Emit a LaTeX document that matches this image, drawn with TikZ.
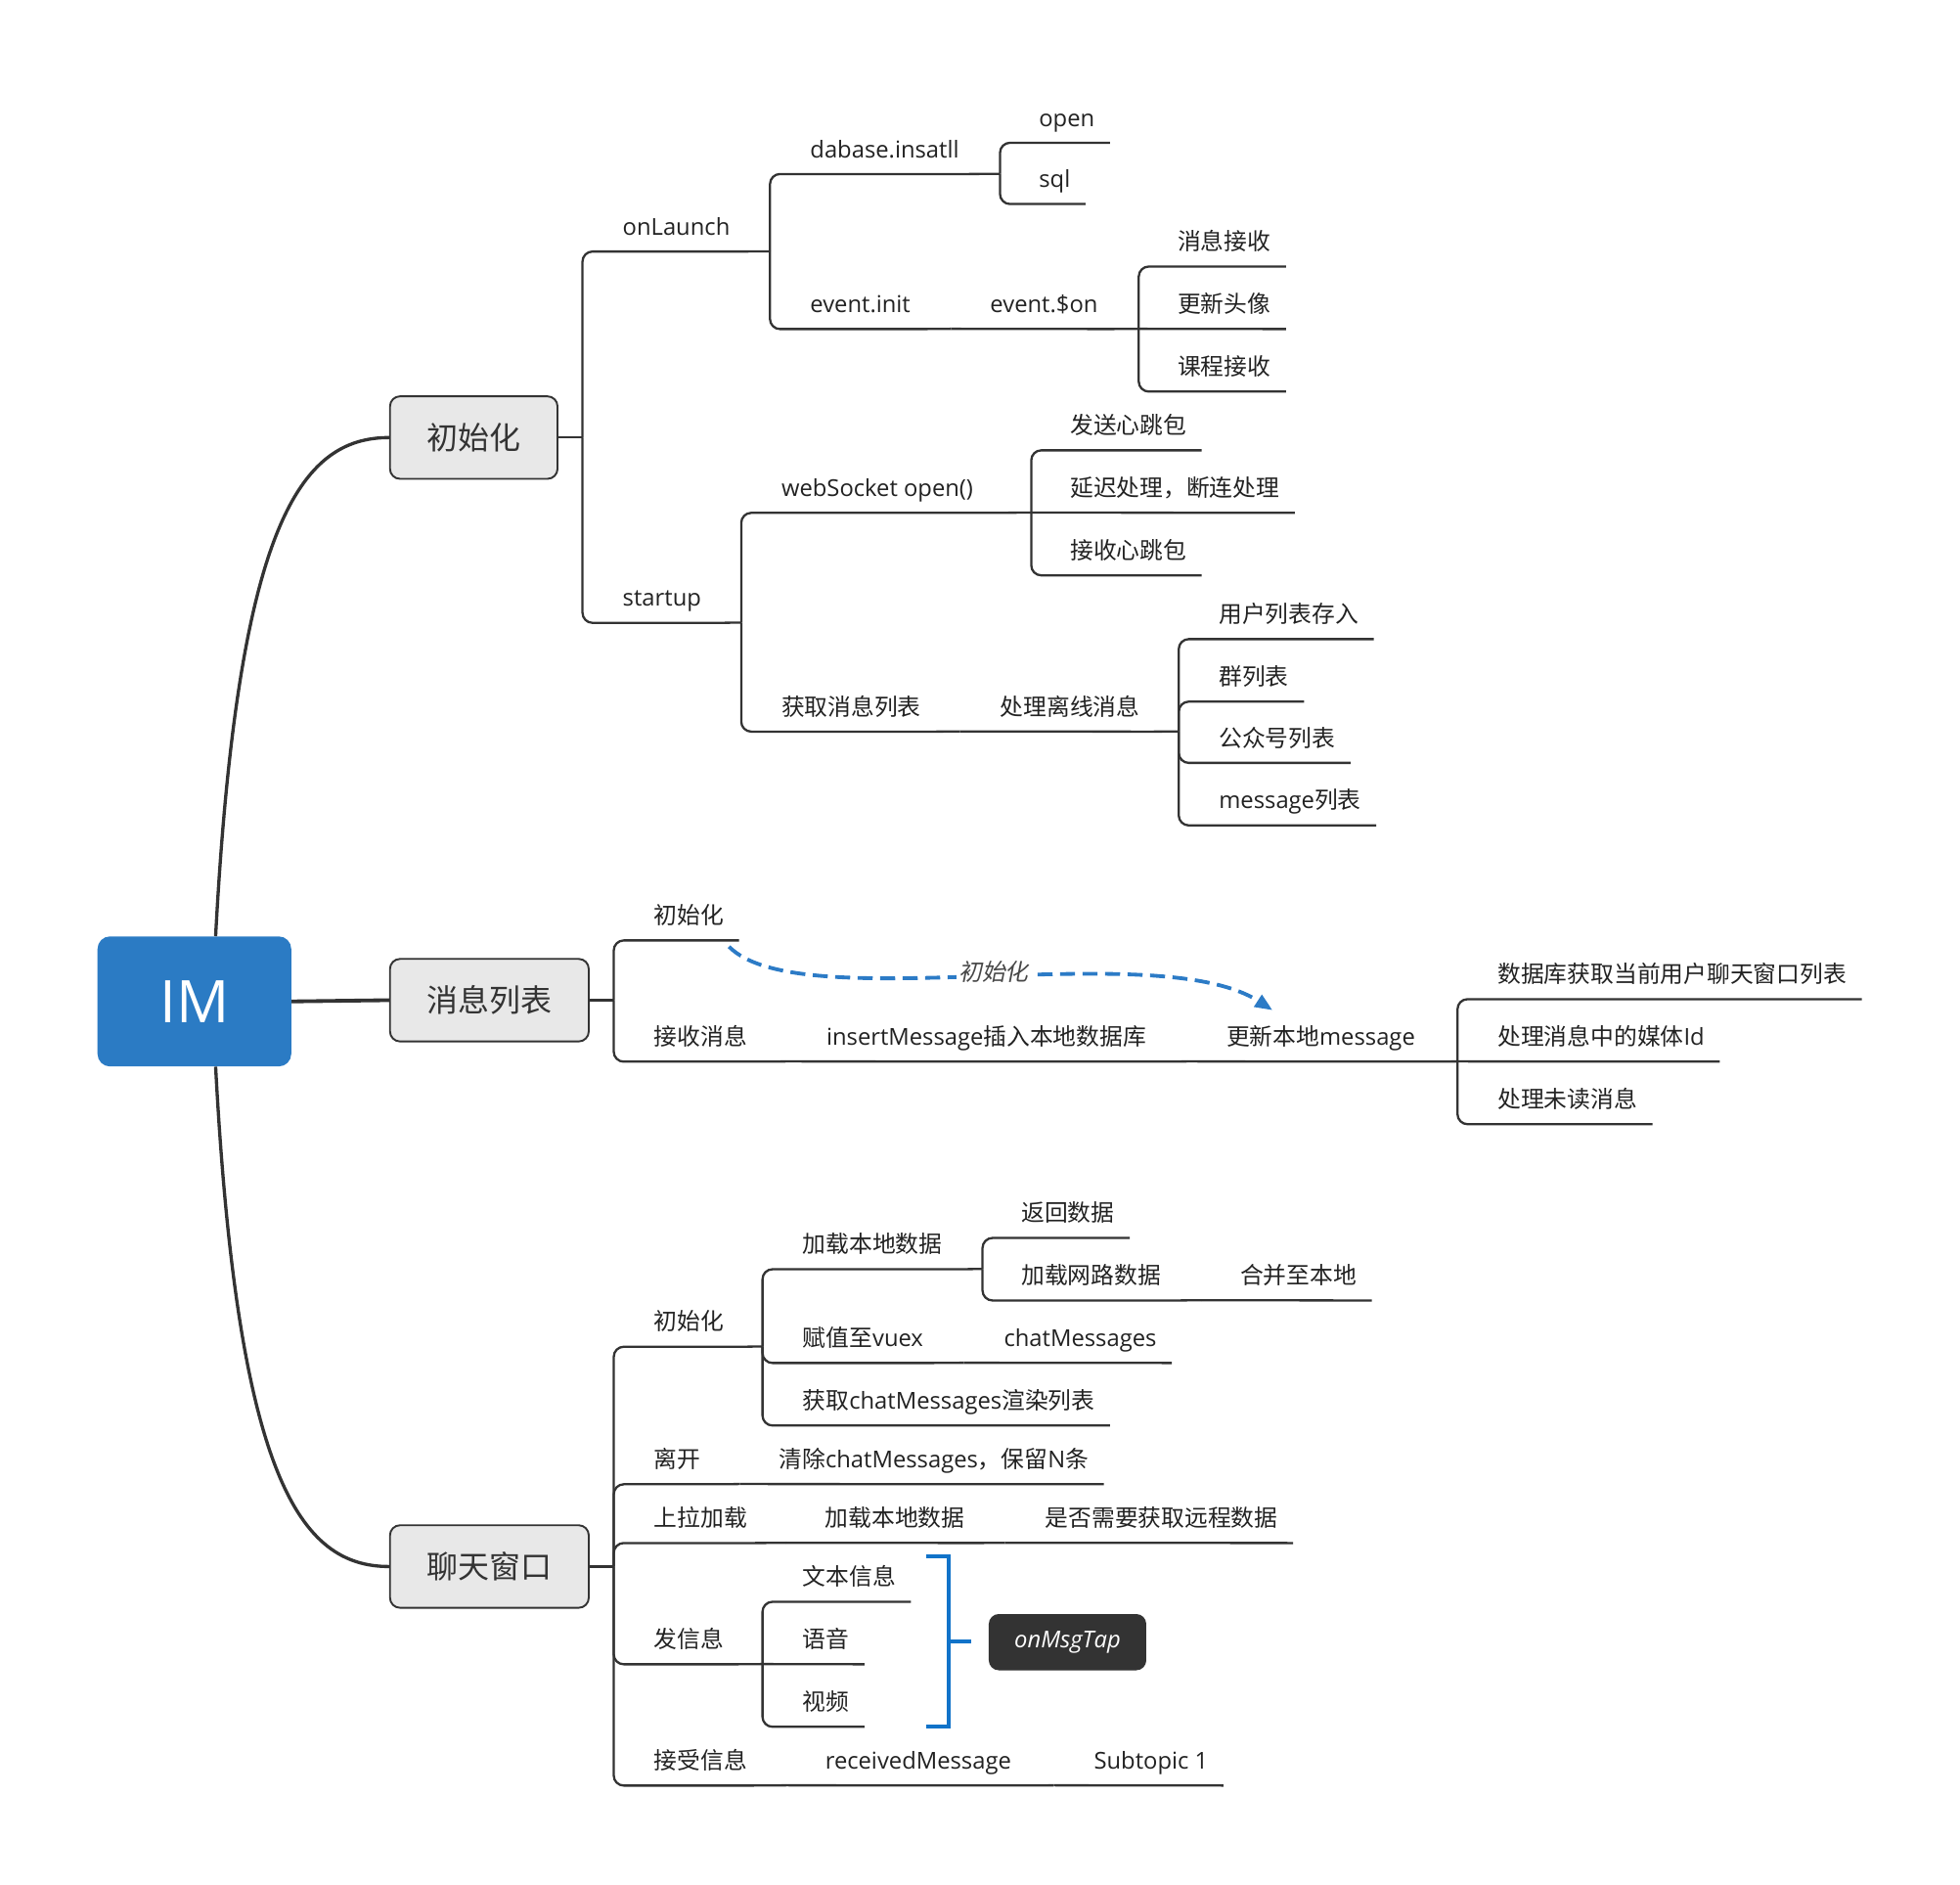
\documentclass[tikz,border=0pt]{standalone}
\usepackage{fontspec}
\setmainfont{Open Sans}
\newfontfamily\cjk{Noto Sans CJK SC}
\newfontfamily\cjkit[FakeSlant=0.2]{Noto Sans CJK SC}
\newcommand\zh[1]{{\cjk #1}}
\newcommand\fsub{\fontsize{18.6}{22}\selectfont}
\usetikzlibrary{calc,arrows.meta}
\definecolor{imblue}{HTML}{2B7BC4}
\definecolor{relblue}{HTML}{2C7BC6}
\definecolor{sumblue}{HTML}{1173C9}
\definecolor{boxfill}{HTML}{E8E8E8}
\definecolor{ink}{HTML}{333333}
\definecolor{txt}{HTML}{222222}
\begin{document}
\begin{tikzpicture}[x=1pt,y=-1pt,
  tp/.style={anchor=base west, inner xsep=12pt, inner ysep=0pt, text depth=13pt, font=\fsub, text=txt},
  cn/.style={line width=1.8pt, draw=ink, rounded corners=8pt},
  mainbox/.style={draw=ink, line width=1.5pt, fill=boxfill, rounded corners=8pt, minimum height=66pt, inner sep=0pt, text=ink, font=\fontsize{25}{28}\selectfont\cjk},
  imbox/.style={fill=imblue, rounded corners=10pt, minimum width=155pt, minimum height=104pt, inner sep=0pt, text=white, font=\fontsize{47}{50}\selectfont},
  mainln/.style={line width=2.6pt, draw=ink},
  rel/.style={line width=3pt, draw=relblue, dash pattern=on 12pt off 6pt, -{Triangle[length=14pt,width=11pt]}},
  rellabel/.style={fill=white, inner sep=2pt, text=ink!90, font=\fsub\cjkit},
  sumln/.style={line width=3pt, draw=sumblue},
  darkbox/.style={fill=ink, rounded corners=8pt, minimum width=126pt, minimum height=45pt, inner sep=0pt, text=white, font=\fsub\itshape}
]
\useasboundingbox (0,0) rectangle (1568,1507);

% ---------- central and main topics ----------
\node[imbox] (im) at (155.5,801) {IM};
\node[mainbox, minimum width=134pt] (m1) at (379,350) {初始化};
\node[mainbox, minimum width=159pt] (m2) at (391.5,800) {消息列表};
\node[mainbox, minimum width=159pt] (m3) at (391.5,1253) {聊天窗口};

\draw[mainln] ([xshift=17pt]im.north) .. controls (190,420) and (240,350) .. (m1.west);
\draw[mainln, line width=3pt] (im.east) -- (m2.west);
\draw[mainln] ([xshift=17pt]im.south) .. controls (190,1182) and (240,1253) .. (m3.west);

% ---------- section 1: 初始化 ----------
\coordinate (J1) at (466,350);
\coordinate (A) at (616,201);
\coordinate (B) at (800,139);
\coordinate (C) at (761,263);
\coordinate (D) at (911,263);
\coordinate (E) at (593,498);
\coordinate (F) at (825,410);
\coordinate (G) at (768,585);
\coordinate (H) at (943,585);

\node[tp] (onlaunch) at (486,188) {onLaunch};
\node[tp] (dabase) at (636,126) {dabase.insatll};
\node[tp] (open) at (819,101) {open};
\node[tp] (sql) at (819,150) {sql};
\node[tp] (evinit) at (636,250) {event.init};
\node[tp] (evon) at (780,250) {event.\$on};
\node[tp] (xxjs) at (930,200) {\zh{消息接收}};
\node[tp] (gxtx) at (930,250) {\zh{更新头像}};
\node[tp] (kcjs) at (930,300) {\zh{课程接收}};
\node[tp] (startup) at (486,485) {startup};
\node[tp] (ws) at (613,397) {webSocket open()};
\node[tp] (fsxt) at (844,347) {\zh{发送心跳包}};
\node[tp] (yccl) at (844,397) {\zh{延迟处理，断连处理}};
\node[tp] (jsxt) at (844,447) {\zh{接收心跳包}};
\node[tp] (hqxx) at (613,572) {\zh{获取消息列表}};
\node[tp] (clpx) at (788,572) {\zh{处理离线消息}};
\node[tp] (yhlb) at (963,498) {\zh{用户列表存入}};
\node[tp] (qlb) at (963,548) {\zh{群列表}};
\node[tp] (gzh) at (963,597) {\zh{公众号列表}};
\node[tp] (msgl) at (963,647) {message\zh{列表}};

\draw[cn] (m1.east) -- (J1);
\draw[cn] (J1) |- (onlaunch.south east) -- (A);
\draw[cn] (A) |- (dabase.south east) -- (B);
\draw[cn] (B) |- (open.south east);
\draw[cn] (B) |- (sql.south east);
\draw[cn] (A) |- (evinit.south east) -- (C);
\draw[cn] (C) -- (evon.south east) -- (D);
\draw[cn] (D) |- (xxjs.south east);
\draw[cn] (D) -- (gxtx.south east);
\draw[cn] (D) |- (kcjs.south east);
\draw[cn] (J1) |- (startup.south east) -- (E);
\draw[cn] (E) |- (ws.south east) -- (F);
\draw[cn] (F) |- (fsxt.south east);
\draw[cn] (F) -- (yccl.south east);
\draw[cn] (F) |- (jsxt.south east);
\draw[cn] (E) |- (hqxx.south east) -- (G);
\draw[cn] (G) -- (clpx.south east) -- (H);
\draw[cn] (H) |- (yhlb.south east);
\draw[cn] (H) |- (qlb.south east);
\draw[cn] (H) |- (gzh.south east);
\draw[cn] (H) |- (msgl.south east);

% ---------- section 2: 消息列表 ----------
\coordinate (J2) at (491,800);
\coordinate (K) at (629,849);
\coordinate (L) at (950,849);
\coordinate (M) at (1166,849);

\node[tp] (r1) at (511,739) {\zh{初始化}};
\node[tp] (recv) at (511,836) {\zh{接收消息}};
\node[tp] (ins) at (649,836) {insertMessage\zh{插入本地数据库}};
\node[tp] (upd) at (969,836) {\zh{更新本地}message};
\node[tp] (db) at (1186,786) {\zh{数据库获取当前用户聊天窗口列表}};
\node[tp] (media) at (1186,836) {\zh{处理消息中的媒体}Id};
\node[tp] (unread) at (1186,886) {\zh{处理未读消息}};

\draw[cn] (m2.east) -- (J2);
\draw[cn] (J2) |- (r1.south east);
\draw[cn] (J2) |- (recv.south east) -- (K);
\draw[cn] (K) -- (ins.south east) -- (L);
\draw[cn] (L) -- (upd.south east) -- (M);
\draw[cn] (M) |- (db.south east);
\draw[cn] (M) -- (media.south east);
\draw[cn] (M) |- (unread.south east);

\coordinate (rEnd) at (1018,808);
\draw[rel] ($(r1.south east)+(-8,5)$) .. controls (640,815) and (925,748) .. (rEnd);
\node[rellabel] (rl) at (795,777) {初始化};

% ---------- section 3: 聊天窗口 ----------
\coordinate (J3) at (491,1253);
\coordinate (N) at (610,1077);
\coordinate (O) at (786,1015);
\coordinate (P) at (961,1040);
\coordinate (Q) at (771,1090);
\coordinate (R) at (592,1187);
\coordinate (S) at (629,1234);
\coordinate (T) at (804,1234);
\coordinate (U) at (610,1331);
\coordinate (V) at (629,1428);
\coordinate (W) at (843,1428);

\node[tp] (c1) at (511,1064) {\zh{初始化}};
\node[tp] (c1a) at (630,1002) {\zh{加载本地数据}};
\node[tp] (c1a1) at (805,977) {\zh{返回数据}};
\node[tp] (c1a2) at (805,1027) {\zh{加载网路数据}};
\node[tp] (c1a2a) at (980,1027) {\zh{合并至本地}};
\node[tp] (c1b) at (630,1077) {\zh{赋值至}vuex};
\node[tp] (c1b1) at (791,1077) {chatMessages};
\node[tp] (c1c) at (630,1127) {\zh{获取}chatMessages\zh{渲染列表}};
\node[tp] (c2) at (511,1174) {\zh{离开}};
\node[tp] (c2a) at (611,1174) {\zh{清除}chatMessages\zh{，保留}N\zh{条}};
\node[tp] (c3) at (511,1221) {\zh{上拉加载}};
\node[tp] (c3a) at (648,1221) {\zh{加载本地数据}};
\node[tp] (c3a1) at (824,1221) {\zh{是否需要获取远程数据}};
\node[tp] (c4) at (511,1318) {\zh{发信息}};
\node[tp] (c4a) at (630,1268) {\zh{文本信息}};
\node[tp] (c4b) at (630,1318) {\zh{语音}};
\node[tp] (c4c) at (630,1368) {\zh{视频}};
\node[tp] (c5) at (511,1415) {\zh{接受信息}};
\node[tp] (c5a) at (648,1415) {receivedMessage};
\node[tp] (c5a1) at (863,1415) {Subtopic 1};

\draw[cn] (m3.east) -- (J3);
\draw[cn] (J3) |- (c1.south east) -- (N);
\draw[cn] (N) |- (c1a.south east) -- (O);
\draw[cn] (O) |- (c1a1.south east);
\draw[cn] (O) |- (c1a2.south east) -- (P);
\draw[cn] (P) -- (c1a2a.south east);
\draw[cn] (N) |- (c1b.south east) -- (Q);
\draw[cn] (Q) -- (c1b1.south east);
\draw[cn] (N) |- (c1c.south east);
\draw[cn] (J3) |- (c2.south east) -- (R);
\draw[cn] (R) -- (c2a.south east);
\draw[cn] (J3) |- (c3.south east) -- (S);
\draw[cn] (S) -- (c3a.south east) -- (T);
\draw[cn] (T) -- (c3a1.south east);
\draw[cn] (J3) |- (c4.south east) -- (U);
\draw[cn] (U) |- (c4a.south east);
\draw[cn] (U) -- (c4b.south east);
\draw[cn] (U) |- (c4c.south east);
\draw[cn] (J3) |- (c5.south east) -- (V);
\draw[cn] (V) -- (c5a.south east) -- (W);
\draw[cn] (W) -- (c5a1.south east);

% summary bracket and label
\coordinate (sa) at (741,1245);
\coordinate (sb) at (759,1245);
\coordinate (sc) at (759,1381);
\coordinate (sd) at (741,1381);
\coordinate (sm) at (759,1313);
\coordinate (smt) at (777,1313);
\draw[sumln] (sa) -- (sb) -- (sc) -- (sd);
\draw[sumln] (sm) -- (smt);
\node[darkbox] (tap) at (854,1313.5) {onMsgTap};
\end{tikzpicture}
\end{document}
